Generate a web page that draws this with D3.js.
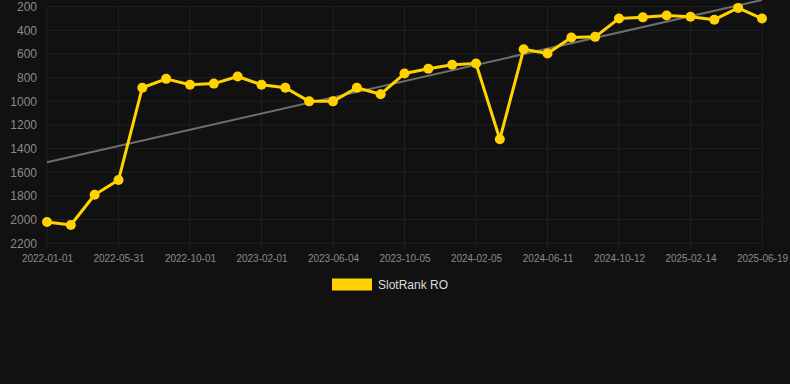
<!DOCTYPE html>
<html><head><meta charset="utf-8">
<script src="https://cdn.jsdelivr.net/npm/d3@7"></script>
<style>
html,body{margin:0;padding:0;background:#111111;}
svg{display:block;font-family:"Liberation Sans",Arial,Helvetica,sans-serif;}
</style></head>
<body>
<script>
const dates = ["2022-01-01","2022-02-20","2022-04-10","2022-05-31","2022-07-11","2022-08-21",
  "2022-10-01","2022-11-11","2022-12-22","2023-02-01","2023-03-14","2023-04-24",
  "2023-06-04","2023-07-15","2023-08-25","2023-10-05","2023-11-15","2023-12-26",
  "2024-02-05","2024-03-17","2024-04-28","2024-06-11","2024-07-22","2024-09-01",
  "2024-10-12","2024-11-22","2025-01-03","2025-02-14","2025-03-27","2025-05-08","2025-06-19"];
const rankValues = [2020,2045,1790,1665,885,810,860,850,790,860,885,1000,1000,885,940,765,725,690,680,1320,560,595,460,455,300,290,275,285,310,210,300];
const trendValues = [1515,143];
const yTicks = [200,400,600,800,1000,1200,1400,1600,1800,2000,2200];
const xTickLabels = ["2022-01-01","2022-05-31","2022-10-01","2023-02-01","2023-06-04","2023-10-05","2024-02-05","2024-06-11","2024-10-12","2025-02-14","2025-06-19"];
const seriesName = "SlotRank RO";

(function () {
const W = 790, H = 384;
const pl = 47, pr = 762, pt = 6.7, pb = 243.3;
const svg = d3.select("body").append("svg").attr("width", W).attr("height", H);
svg.append("rect").attr("width", W).attr("height", H).attr("fill", "#111111");

const x = d3.scalePoint().domain(dates).range([pl, pr]);
const y = d3.scaleLinear().domain([200, 2200]).range([pt, pb]);

// grid
const g = svg.append("g");
g.selectAll("line.h").data(yTicks).join("line")
  .attr("x1", pl).attr("x2", pr).attr("y1", d => y(d)).attr("y2", d => y(d))
  .attr("stroke", "#202020").attr("stroke-width", 1);
g.selectAll("line.v").data(xTickLabels).join("line")
  .attr("x1", d => x(d)).attr("x2", d => x(d)).attr("y1", pt).attr("y2", pb + 5)
  .attr("stroke", "#202020").attr("stroke-width", 1);

// y axis
const yAxis = d3.axisLeft(y).tickValues(yTicks).tickSize(0).tickPadding(0).tickFormat(d3.format("d"));
const ya = svg.append("g").attr("transform", `translate(37,0)`).call(yAxis);
ya.select(".domain").remove();
ya.selectAll("text").attr("fill", "#8a8a8a").attr("font-size", 12).attr("font-family", "Liberation Sans, Arial, sans-serif");

// x axis
const xAxis = d3.axisBottom(x).tickValues(xTickLabels).tickSize(0).tickPadding(0);
const xa = svg.append("g").attr("transform", `translate(0,${pb + 11.5})`).call(xAxis);
xa.select(".domain").remove();
xa.selectAll("text").attr("fill", "#8a8a8a").attr("font-size", 10).attr("font-family", "Liberation Sans, Arial, sans-serif");

// trend line
svg.append("line")
  .attr("x1", x(dates[0])).attr("y1", y(trendValues[0]))
  .attr("x2", x(dates[dates.length - 1])).attr("y2", y(trendValues[1]))
  .attr("stroke", "#6e6e6e").attr("stroke-width", 2);

// series line
const data = dates.map((d, i) => ({d, v: rankValues[i]}));
svg.append("path").datum(data)
  .attr("d", d3.line().x(p => x(p.d)).y(p => y(p.v)))
  .attr("fill", "none").attr("stroke", "#FFD200").attr("stroke-width", 3)
  .attr("stroke-linejoin", "round");
svg.selectAll("circle.pt").data(data).join("circle")
  .attr("cx", p => x(p.d)).attr("cy", p => y(p.v)).attr("r", 5)
  .attr("fill", "#FFD200");

// legend
svg.append("rect").attr("x", 332).attr("y", 278.5).attr("width", 40).attr("height", 12).attr("fill", "#FFD200");
svg.append("text").attr("x", 378).attr("y", 288.5).text(seriesName)
  .attr("fill", "#dddddd").attr("font-size", 12);
})();
</script>
</body></html>
